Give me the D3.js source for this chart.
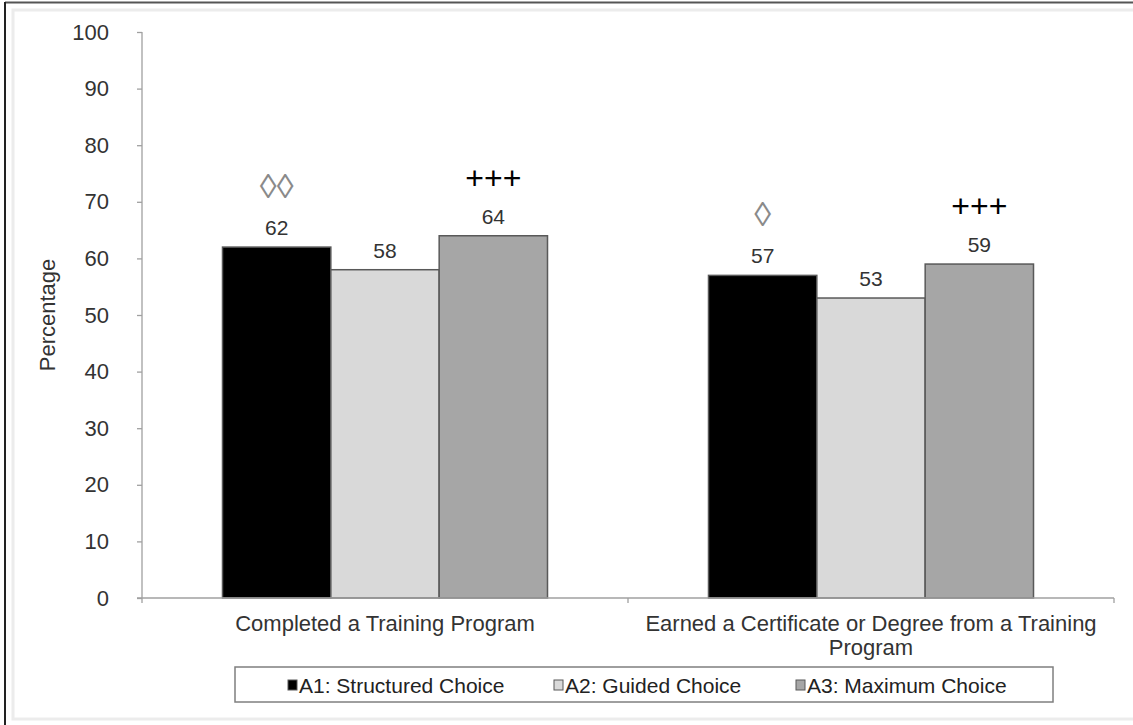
<!DOCTYPE html>
<html>
<head>
<meta charset="utf-8">
<script src="https://cdn.jsdelivr.net/npm/d3@7"></script>
<style>
  html, body { margin: 0; padding: 0; background: #fff; }
  svg { display: block; font-family: "Liberation Sans", Arial, sans-serif; }
</style>
</head>
<body>
<svg id="chart" width="1133" height="725"></svg>
<script>
// ---- data ----
const categories = ["Completed a Training Program", "Earned a Certificate or Degree from a Training Program"];
const seriesNames = ["A1: Structured Choice", "A2: Guided Choice", "A3: Maximum Choice"];
const a1Values = [62, 57];
const a2Values = [58, 53];
const a3Values = [64, 59];
const a1Marks = ["\u25CA\u25CA", "\u25CA"];
const a3Marks = ["+++", "+++"];
const yTicks = [0, 10, 20, 30, 40, 50, 60, 70, 80, 90, 100];
const yLabel = "Percentage";

const seriesValues = [a1Values, a2Values, a3Values];
const seriesFill = ["#000000", "#d9d9d9", "#a6a6a6"];

const svg = d3.select("#chart");

// frames
svg.append("rect").attr("x", 13).attr("y", 10).attr("width", 1140).attr("height", 709)
  .attr("fill", "#fff").attr("stroke", "#ececec").attr("stroke-width", 3);
svg.append("line").attr("x1", 5).attr("x2", 1133).attr("y1", 2.5).attr("y2", 2.5)
  .attr("stroke", "#555").attr("stroke-width", 2);
svg.append("line").attr("x1", 5).attr("x2", 5).attr("y1", 2).attr("y2", 725)
  .attr("stroke", "#222").attr("stroke-width", 2);

// scales
const x = d3.scaleBand().domain(categories).range([142, 1114]).paddingInner(0).paddingOuter(0);
const xs = d3.scaleBand().domain(seriesNames).range([0, x.bandwidth()]).paddingInner(0).paddingOuter(0.743);
const y = d3.scaleLinear().domain([0, 100]).range([598, 32]);

const axisColor = "#a0a0a0";

// y axis
const yAxis = svg.append("g").attr("transform", "translate(142,0)")
  .call(d3.axisLeft(y).tickValues(yTicks).tickSize(5).tickPadding(28));
yAxis.select(".domain").attr("stroke", axisColor).attr("stroke-width", 1.3).attr("d", "M0," + y(100) + "V" + y(0));
yAxis.selectAll(".tick line").attr("stroke", axisColor).attr("stroke-width", 1.3);
yAxis.selectAll(".tick text").attr("fill", "#333").attr("font-size", 22)
  .attr("font-family", "Liberation Sans, Arial, sans-serif");

// y label
svg.append("text")
  .attr("transform", "translate(55," + y(50) + ") rotate(-90)")
  .attr("text-anchor", "middle").attr("font-size", 22).attr("fill", "#333")
  .text(yLabel);

// bars
const groups = svg.append("g").selectAll("g").data(categories).join("g")
  .attr("transform", d => "translate(" + x(d) + ",0)");

seriesNames.forEach((s, si) => {
  groups.append("rect")
    .attr("x", xs(s))
    .attr("width", xs.bandwidth())
    .attr("y", (d, i) => y(seriesValues[si][i]))
    .attr("height", (d, i) => y(0) - y(seriesValues[si][i]))
    .attr("fill", seriesFill[si])
    .attr("stroke", "#595959").attr("stroke-width", 1.5);
  groups.append("text")
    .attr("x", xs(s) + xs.bandwidth() / 2)
    .attr("y", (d, i) => y(seriesValues[si][i]) - 12)
    .attr("text-anchor", "middle").attr("font-size", 21).attr("fill", "#333")
    .text((d, i) => seriesValues[si][i]);
});

// significance marks
groups.append("text")
  .attr("x", xs(seriesNames[0]) + xs.bandwidth() / 2)
  .attr("y", (d, i) => y(a1Values[i]) - 61)
  .attr("dominant-baseline", "central")
  .attr("text-anchor", "middle").attr("font-size", 34).attr("fill", "#8a8a8a")
  .text((d, i) => a1Marks[i]);
groups.append("text")
  .attr("x", xs(seriesNames[2]) + xs.bandwidth() / 2)
  .attr("y", (d, i) => y(a3Values[i]) - 58)
  .attr("dominant-baseline", "central")
  .attr("text-anchor", "middle").attr("font-size", 32).attr("fill", "#000")
  .text((d, i) => a3Marks[i]);

// x axis
svg.append("line").attr("x1", 137).attr("x2", 1114).attr("y1", y(0)).attr("y2", y(0))
  .attr("stroke", axisColor).attr("stroke-width", 1.3);
const xEdges = [x.range()[0]].concat(categories.map(c => x(c) + x.bandwidth()));
svg.append("g").selectAll("line").data(xEdges).join("line")
  .attr("x1", d => d).attr("x2", d => d).attr("y1", y(0)).attr("y2", y(0) + 5)
  .attr("stroke", axisColor).attr("stroke-width", 1.3);

// category labels with wrapping
const catText = svg.append("g").selectAll("text").data(categories).join("text")
  .attr("x", d => x(d) + x.bandwidth() / 2)
  .attr("y", 631)
  .attr("text-anchor", "middle").attr("font-size", 22).attr("fill", "#333");
catText.each(function(d) {
  const t = d3.select(this);
  const words = d.split(" ");
  const maxW = x.bandwidth() - 6;
  let line = [];
  let tspan = t.append("tspan").attr("x", t.attr("x")).attr("dy", 0);
  words.forEach(w => {
    line.push(w);
    tspan.text(line.join(" "));
    if (tspan.node().getComputedTextLength() > maxW && line.length > 1) {
      line.pop();
      tspan.text(line.join(" "));
      line = [w];
      tspan = t.append("tspan").attr("x", t.attr("x")).attr("dy", 24).text(w);
    }
  });
});

// legend
svg.append("rect").attr("x", 235).attr("y", 667).attr("width", 818).attr("height", 35)
  .attr("fill", "#fff").attr("stroke", "#7f7f7f").attr("stroke-width", 1.5);
const legendX = [288, 554, 796];
const leg = svg.append("g").selectAll("g").data(seriesNames).join("g")
  .attr("transform", (d, i) => "translate(" + legendX[i] + ",685)");
leg.append("rect").attr("x", 0).attr("y", -5).attr("width", 9).attr("height", 10)
  .attr("fill", (d, i) => seriesFill[i]).attr("stroke", "#595959").attr("stroke-width", 1);
leg.append("text").attr("x", 11).attr("y", 0).attr("dominant-baseline", "central")
  .attr("font-size", 21).attr("fill", "#222").text(d => d);
</script>
</body>
</html>
